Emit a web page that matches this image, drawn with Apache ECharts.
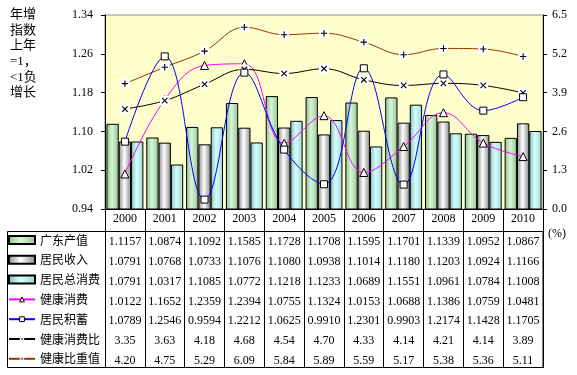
<!DOCTYPE html>
<html>
<head>
<meta charset="utf-8">
<script src="https://cdn.jsdelivr.net/npm/echarts@6/dist/echarts.min.js"></script>
<style>
    html, body { margin: 0; padding: 0; background: #fff; }
    #main { width: 577px; height: 375px; }
</style>
</head>
<body>
<div id="main"></div>
<script>
    // 数据
    var years = ['2000', '2001', '2002', '2003', '2004', '2005', '2006', '2007', '2008', '2009', '2010'];
    var gdOutput = [1.1157, 1.0874, 1.1092, 1.1585, 1.1728, 1.1708, 1.1595, 1.1701, 1.1339, 1.0952, 1.0867];
    var income = [1.0791, 1.0768, 1.0733, 1.1076, 1.1080, 1.0938, 1.1014, 1.1180, 1.1203, 1.0924, 1.1166];
    var totalConsume = [1.0791, 1.0317, 1.1085, 1.0772, 1.1218, 1.1233, 1.0689, 1.1551, 1.0961, 1.0784, 1.1008];
    var healthConsume = [1.0122, 1.1652, 1.2359, 1.2394, 1.0755, 1.1324, 1.0153, 1.0688, 1.1386, 1.0759, 1.0481];
    var savings = [1.0789, 1.2546, 0.9594, 1.2212, 1.0625, 0.9910, 1.2301, 0.9903, 1.2174, 1.1428, 1.1705];
    var healthRatio = [3.35, 3.63, 4.18, 4.68, 4.54, 4.70, 4.33, 4.14, 4.21, 4.14, 3.89];
    var healthShare = [4.20, 4.75, 5.29, 6.09, 5.84, 5.89, 5.59, 5.17, 5.38, 5.36, 5.11];
    var leftTicks = [0.94, 1.02, 1.10, 1.18, 1.26, 1.34];

    var rows = [
        { name: '广东产值', data: gdOutput, digits: 4, bar: true },
        { name: '居民收入', data: income, digits: 4, bar: true },
        { name: '居民总消费', data: totalConsume, digits: 4, bar: true },
        { name: '健康消费', data: healthConsume, digits: 4 },
        { name: '居民积蓄', data: savings, digits: 4 },
        { name: '健康消费比', data: healthRatio, digits: 2 },
        { name: '健康比重值', data: healthShare, digits: 2 }
    ];

    var serif = "'Liberation Serif', 'Noto Sans CJK SC'";
    var cjk = "'Noto Sans CJK SC'";
    var axisBottom = 209;
    function rowY(i) { return 242 + 19.8 * i; }

    function grad(c0, c1, c2) {
        return new echarts.graphic.LinearGradient(0, 0, 1, 0, [
            { offset: 0, color: c0 }, { offset: 0.45, color: c1 }, { offset: 1, color: c2 }
        ]);
    }
    function svgSymbol(path) {
        var svg = "<svg xmlns='http://www.w3.org/2000/svg' width='11' height='11'>" +
            "<rect width='11' height='11' fill='white'/>" +
            "<path d='" + path + "' stroke='black' stroke-width='1.2' fill='none'/></svg>";
        return 'image://data:image/svg+xml;charset=utf-8,' + encodeURIComponent(svg);
    }
    var plusSym = svgSymbol('M2 5.5H9M5.5 2V9');
    var crossSym = svgSymbol('M2.5 2.5L8.5 8.5M8.5 2.5L2.5 8.5');

    var xAxes = [{
        type: 'category',
        data: years,
        gridIndex: 0,
        position: 'bottom',
        axisLine: { lineStyle: { color: '#000', width: 1 } },
        axisTick: { show: true, length: 159, lineStyle: { color: '#000' } },
        axisLabel: { interval: 0, margin: 10, verticalAlign: 'middle', color: '#000', fontSize: 12, fontFamily: serif }
    }];
    rows.forEach(function (r, i) {
        xAxes.push({
            type: 'category',
            data: years,
            gridIndex: 0,
            position: 'bottom',
            offset: rowY(i) - axisBottom,
            axisLine: { show: false },
            axisTick: { show: false },
            axisLabel: {
                interval: 0, margin: 0, verticalAlign: 'middle', color: '#000', fontSize: 12, fontFamily: serif,
                formatter: function (v, idx) { return r.data[idx].toFixed(r.digits); }
            }
        });
    });

    var legends = rows.map(function (r, i) {
        var lg = {
            data: [r.name],
            left: 8,
            top: rowY(i) - 8,
            padding: 0,
            itemWidth: 26,
            itemHeight: r.bar ? 8 : 6,
            selectedMode: false,
            textStyle: { fontSize: 12, fontFamily: cjk, color: '#000' }
        };
        if (r.bar) {
            lg.icon = 'rect';
        } else if (i < 5) {
            lg.itemStyle = { color: '#fff', borderColor: '#000', borderWidth: 1 };
        }
        return lg;
    });

    var option = {
        animation: false,
        backgroundColor: '#fff',
        grid: {
            left: 105, right: 34, top: 15, bottom: 375 - axisBottom,
            show: true, backgroundColor: '#FFFFCC', borderColor: '#8c8c8c', borderWidth: 1
        },
        legend: legends,
        xAxis: xAxes,
        yAxis: [
            {
                type: 'value',
                min: 0.94,
                max: 1.34,
                position: 'left',
                splitLine: { show: false },
                axisLine: { show: true, lineStyle: { color: '#000' } },
                axisTick: { show: true, length: 4, customValues: leftTicks, lineStyle: { color: '#000' } },
                axisLabel: {
                    customValues: leftTicks, margin: 12, color: '#000', fontSize: 12, fontFamily: serif,
                    formatter: function (v) { return v.toFixed(2); }
                }
            },
            {
                type: 'value',
                min: 0,
                max: 6.5,
                interval: 1.3,
                position: 'right',
                splitLine: { show: false },
                axisLine: { show: true, lineStyle: { color: '#000' } },
                axisTick: { show: true, length: 4, lineStyle: { color: '#000' } },
                axisLabel: {
                    margin: 9, color: '#000', fontSize: 12, fontFamily: serif,
                    formatter: function (v) { return v.toFixed(1); }
                }
            }
        ],
        graphic: [
            {
                type: 'text', left: 10, top: 7,
                style: {
                    text: '年增\n指数\n上年\n=1，\n<1负\n增长',
                    font: '13px ' + serif, lineHeight: 15.6, fill: '#000'
                }
            },
            {
                type: 'text', left: 548, top: 228,
                style: { text: '(%)', font: '12px ' + serif, fill: '#000' }
            },
            {
                type: 'rect', silent: true,
                shape: { x: 7.5, y: 231.5, width: 535.5, height: 136 },
                style: { fill: 'none', stroke: '#000', lineWidth: 1 }
            }
        ],
        series: [
            {
                name: '广东产值', type: 'bar', data: gdOutput, barWidth: 12.3, barGap: '0%',
                itemStyle: { color: grad('#8fbf8f', '#d8f5d8', '#93c293'), borderColor: '#000', borderWidth: 1 }
            },
            {
                name: '居民收入', type: 'bar', data: income, barWidth: 12.3, barGap: '0%',
                itemStyle: { color: grad('#8a8a8a', '#ffffff', '#8a8a8a'), borderColor: '#000', borderWidth: 1 }
            },
            {
                name: '居民总消费', type: 'bar', data: totalConsume, barWidth: 12.3, barGap: '0%',
                itemStyle: { color: grad('#86bcbc', '#d6ffff', '#9fd6d6'), borderColor: '#000', borderWidth: 1 }
            },
            {
                name: '健康消费', type: 'line', data: healthConsume, smooth: 0.4, z: 3,
                symbol: 'triangle', symbolSize: 8,
                lineStyle: { color: '#ff00ff', width: 1 },
                itemStyle: { color: '#fff', borderColor: '#000', borderWidth: 1 }
            },
            {
                name: '居民积蓄', type: 'line', data: savings, smooth: 0.4, z: 4,
                symbol: 'rect', symbolSize: 7,
                lineStyle: { color: '#0000ff', width: 1 },
                itemStyle: { color: '#fff', borderColor: '#000', borderWidth: 1 }
            },
            {
                name: '健康消费比', type: 'line', yAxisIndex: 1, data: healthRatio, smooth: 0.4, z: 3,
                symbol: crossSym, symbolSize: 10,
                lineStyle: { color: '#000', width: 1 },
                itemStyle: { color: '#000' }
            },
            {
                name: '健康比重值', type: 'line', yAxisIndex: 1, data: healthShare, smooth: 0.4, z: 3,
                symbol: plusSym, symbolSize: 10,
                lineStyle: { color: '#993300', width: 1 },
                itemStyle: { color: '#993300' }
            }
        ]
    };

    var chart = echarts.init(document.getElementById('main'), null, { renderer: 'canvas' });
    chart.setOption(option);
</script>
</body>
</html>
